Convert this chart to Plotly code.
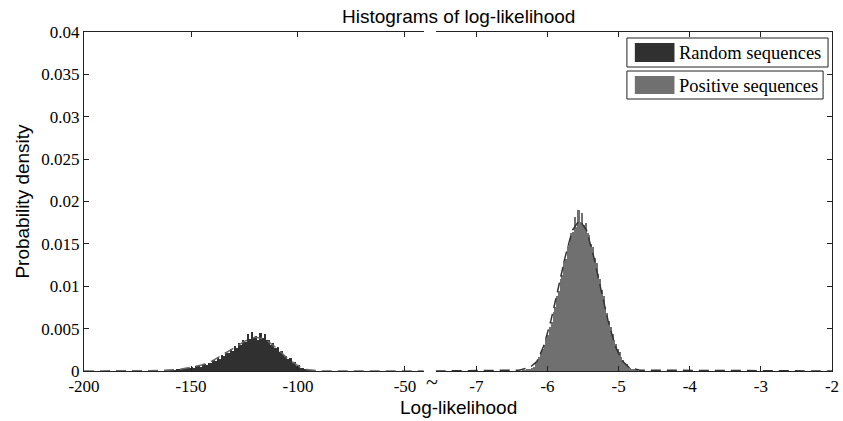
import plotly.graph_objects as go

# ---------------- data ----------------
title_text = "Histograms of log-likelihood"
x_title = "Log-likelihood"
y_title = "Probability density"
series_names = ["Random sequences", "Positive sequences"]

# Random sequences histogram (left panel), bins of width 1 starting at -162
rand_bin_start = -162
rand_bin_width = 1
random_density = [
    0.00005, 0.0001, 0.00008, 0.00012, 0.0001, 0.00018, 0.00015, 0.00022, 0.0002, 0.00035,
    0.0003, 0.00038, 0.00045, 0.0004, 0.00055, 0.0006, 0.00052, 0.0007, 0.00078, 0.0007,
    0.00095, 0.001, 0.0013, 0.0012, 0.0016, 0.0014, 0.0019, 0.0018, 0.0022, 0.0021,
    0.0026, 0.0024, 0.0029, 0.0027, 0.0033, 0.0031, 0.0036, 0.0034, 0.0044, 0.0038,
    0.0046, 0.0039, 0.0041, 0.0037, 0.0045, 0.0039, 0.0044, 0.0036, 0.0037, 0.0031,
    0.0033, 0.0027, 0.0028, 0.0022, 0.0024, 0.0019, 0.0018, 0.0014, 0.0015, 0.001,
    0.0011, 0.0006, 0.0007, 0.0003, 0.0003, 0.00015, 0.0001, 0.00008, 0.00005,
]

# Positive sequences histogram (right panel), bins of width 0.025 starting at -6.35
pos_bin_start = -6.35
pos_bin_width = 0.025
positive_density = [
    0.0001, 0.0001, 0.00015, 0.0002, 0.0002, 0.0003, 0.0005,
    0.0009, 0.0012, 0.0017, 0.0022, 0.0026, 0.0031, 0.0038, 0.0043, 0.0052, 0.0058,
    0.0070, 0.0075, 0.0088, 0.0094, 0.0108, 0.0113, 0.0130, 0.0132, 0.0148, 0.0150,
    0.0163, 0.0164, 0.0182, 0.0170, 0.0190, 0.0176, 0.0186, 0.0172, 0.0175, 0.0163,
    0.0160, 0.0150, 0.0146, 0.0133, 0.0128, 0.0114, 0.0108, 0.0095, 0.0088, 0.0076,
    0.0069, 0.0059, 0.0052, 0.0044, 0.0037, 0.0032, 0.0026, 0.0022, 0.0017, 0.0013,
    0.0010, 0.0008, 0.0005, 0.0003, 0.0002, 0.00015, 0.0001, 0.0001,
]

# dashed fitted density curves
rand_fit_x = [-200, -165, -155, -145, -140, -135, -130, -125, -120, -115, -110, -105, -100, -97, -90, -41.2]
rand_fit_y = [0, 0.00005, 0.0002, 0.0007, 0.0012, 0.0019, 0.0027, 0.0035, 0.0040, 0.0037, 0.0027, 0.0015, 0.0006, 0.0002, 0, 0]
pos_fit_x = [-7.571, -6.4, -6.25, -6.15, -6.05, -5.95, -5.85, -5.75, -5.65, -5.55, -5.45, -5.35, -5.25, -5.15, -5.05, -4.95, -4.85, -4.7, -2]
pos_fit_y = [0, 0.0001, 0.0004, 0.0011, 0.0030, 0.0060, 0.0097, 0.0135, 0.0166, 0.0178, 0.0166, 0.0135, 0.0097, 0.0060, 0.0030, 0.0012, 0.0004, 0.0001, 0]

left_ticks = [-200, -150, -100, -50]
left_ticktext = ["-200", "-150", "-100", "-50"]
right_ticks = [-7, -6, -5, -4, -3, -2]
right_ticktext = ["-7", "-6", "-5", "-4", "-3", "-2"]
y_ticks = [0, 0.005, 0.01, 0.015, 0.02, 0.025, 0.03, 0.035, 0.04]
y_ticktext = ["0", "0.005", "0.01", "0.015", "0.02", "0.025", "0.03", "0.035", "0.04"]

# ---------------- layout helpers ----------------
W, H = 843, 421
L, R, T, B = 84, 4, 32, 50
PW, PH = W - L - R, H - T - B


def px(x):
    return (x - L) / PW


def py(y):
    return (T + PH - y) / PH


rand_x = [rand_bin_start + rand_bin_width * (i + 0.5) for i in range(len(random_density))]
pos_x = [pos_bin_start + pos_bin_width * (i + 0.5) for i in range(len(positive_density))]

col_rand = "#303030"
col_pos = "#707070"
axis_col = "#222222"
serif = "Liberation Serif, Times New Roman, serif"
sans = "Liberation Sans, Arial, sans-serif"
tick_font = dict(family=serif, size=17, color="black")

fig = go.Figure()
fig.add_trace(go.Scatter(x=rand_fit_x, y=rand_fit_y, mode="lines",
                         line=dict(color="#666666", width=1.5, dash="10px,6px"),
                         xaxis="x", yaxis="y", showlegend=False, hoverinfo="skip"))
fig.add_trace(go.Bar(x=rand_x, y=random_density, width=rand_bin_width,
                     marker=dict(color=col_rand, line=dict(width=0)),
                     xaxis="x", yaxis="y", showlegend=False, name=series_names[0]))
fig.add_trace(go.Bar(x=pos_x, y=positive_density, width=pos_bin_width,
                     marker=dict(color=col_pos, line=dict(width=0)),
                     xaxis="x2", yaxis="y2", showlegend=False, name=series_names[1]))
fig.add_trace(go.Scatter(x=pos_fit_x, y=pos_fit_y, mode="lines",
                         line=dict(color="#333333", width=1.5, dash="10px,6px"),
                         xaxis="x2", yaxis="y2", showlegend=False, hoverinfo="skip"))

xcommon = dict(showline=True, linecolor=axis_col, linewidth=1, mirror="ticks",
               ticks="inside", ticklen=5, tickcolor=axis_col, showgrid=False, zeroline=False,
               tickfont=tick_font, ticklabeloverflow="allow")
ycommon = dict(range=[0, 0.04], showline=True, linecolor=axis_col, linewidth=1,
               ticks="inside", ticklen=5, tickcolor=axis_col, showgrid=False, zeroline=False,
               tickvals=y_ticks, ticktext=y_ticktext, tickfont=tick_font,
               ticklabeloverflow="allow")

fig.update_layout(
    width=W, height=H,
    margin=dict(l=L, r=R, t=T, b=B, pad=0),
    paper_bgcolor="white", plot_bgcolor="white",
    font=dict(family=serif, size=17, color="black"),
    bargap=0,
    xaxis=dict(domain=[0, px(427)], range=[-200, -41.2], tickvals=left_ticks,
               ticktext=left_ticktext, anchor="y", **xcommon),
    xaxis2=dict(domain=[px(439), 1], range=[-7.571, -2], tickvals=right_ticks,
                ticktext=right_ticktext, anchor="y2", **xcommon),
    yaxis=dict(domain=[0, 1], anchor="x", side="left", **ycommon),
    yaxis2=dict(domain=[0, 1], anchor="x2", side="right", showticklabels=False, **ycommon),
)

annotations = [
    dict(text=title_text, x=px(462), y=py(16), font=dict(family=sans, size=19, color="black")),
    dict(text=x_title, x=px(462), y=py(407), font=dict(family=sans, size=19, color="black")),
    dict(text=y_title, x=px(21), y=py(201), textangle=-90, font=dict(family=sans, size=19, color="black")),
    dict(text="~", x=px(435), y=py(382), font=dict(family=serif, size=22, color="black")),
    dict(text=series_names[0], x=px(683), y=py(53), xanchor="left",
         font=dict(family=serif, size=18.5, color="black")),
    dict(text=series_names[1], x=px(683), y=py(86), xanchor="left",
         font=dict(family=serif, size=18.5, color="black")),
]
for a in annotations:
    a.setdefault("xanchor", "center")
    a.update(xref="paper", yref="paper", yanchor="middle", showarrow=False)
fig.update_layout(annotations=annotations)

shapes = [
    dict(type="rect", x0=px(632), x1=px(835), y0=py(38), y1=py(67),
         line=dict(color=axis_col, width=1), fillcolor="white"),
    dict(type="rect", x0=px(632), x1=px(830), y0=py(71), y1=py(99),
         line=dict(color=axis_col, width=1), fillcolor="white"),
    dict(type="rect", x0=px(640), x1=px(680), y0=py(43), y1=py(62),
         line=dict(width=0), fillcolor=col_rand),
    dict(type="rect", x0=px(640), x1=px(680), y0=py(76), y1=py(94),
         line=dict(width=0), fillcolor=col_pos),
]
for s in shapes:
    s.update(xref="paper", yref="paper")
fig.update_layout(shapes=shapes)

fig.write_html("out.html")
